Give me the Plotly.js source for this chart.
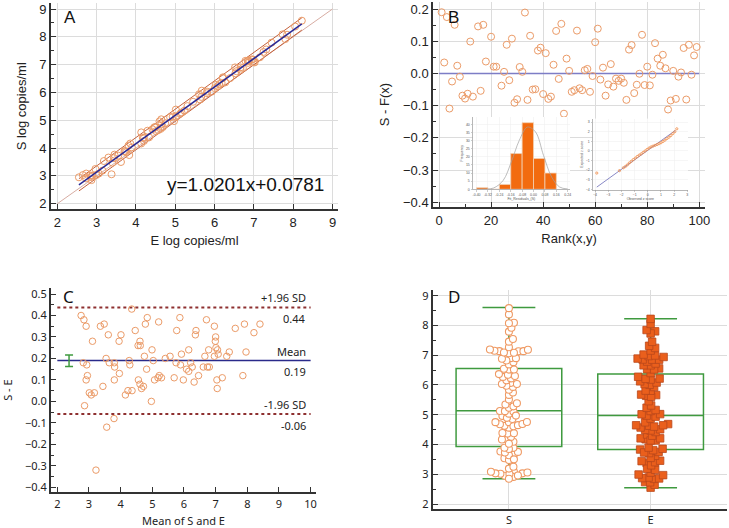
<!DOCTYPE html>
<html><head><meta charset="utf-8">
<script src="https://cdn.plot.ly/plotly-3.0.1.min.js"></script>
<style>html,body{margin:0;padding:0;background:#fff}#chart{width:729px;height:528px}</style>
</head><body><div id="chart"></div>
<script>
// ---------------- data ----------------
// Panel C: Bland-Altman — mean of S and E, and difference S - E
const meanSE = [2.75,2.84,2.91,2.82,2.93,2.95,2.91,2.86,3.01,3.07,3.17,3.11,3.22,3.36,3.48,3.44,3.54,3.61,3.56,3.64,3.79,3.80,3.80,3.81,3.95,4.01,3.96,4.15,4.23,4.27,4.29,4.36,4.35,4.46,4.55,4.61,4.62,4.56,4.61,4.66,4.72,4.78,4.75,4.82,4.84,4.99,5.03,4.97,5.07,5.18,5.22,5.20,5.29,5.41,5.56,5.69,5.75,5.77,5.87,5.89,5.92,5.98,6.08,6.15,6.15,6.21,6.26,6.32,6.36,6.38,6.46,6.61,6.66,6.71,6.74,6.78,6.80,6.96,6.96,7.00,6.99,7.01,7.06,7.08,7.04,7.05,7.21,7.35,7.43,7.62,7.86,7.91,7.96,8.21,8.40];
const diffSE = [0.40,0.38,0.35,0.18,0.17,0.12,0.10,-0.02,0.04,0.03,0.04,0.28,-0.32,0.35,0.36,0.07,0.20,0.31,-0.12,0.18,-0.08,0.18,0.10,0.16,0.28,0.31,0.13,0.03,0.05,0.19,0.17,0.05,0.43,0.33,0.26,0.28,0.26,0.10,0.08,0.06,0.07,0.36,0.21,0.15,0.39,0.24,0.19,0.00,0.10,0.11,0.12,0.37,0.11,0.20,0.21,0.11,0.18,0.33,0.39,0.17,0.22,0.10,0.15,0.24,0.14,0.18,0.16,0.09,0.31,0.33,0.12,0.16,0.21,0.38,0.16,0.24,0.16,0.35,0.21,0.30,0.28,0.25,0.24,0.22,0.10,0.06,0.11,0.21,0.23,0.34,0.12,0.36,0.23,0.32,0.36];
const baMean = 0.19, baUpper = 0.437, baLower = -0.059;
const meanCI = [0.163, 0.216];
const baCIx = 2.37;

// Panel A: regression
const regSlope = 1.0201, regIntercept = 0.0781, bandHalf = 0.22;
const identityRange = [2, 9];

// Panel B: residuals vs rank
const rankB = [1,2,3,4,5,6,7,8,9,10,11,12,13,15,16,17,18,20,21,22,24,25,26,27,28,29,30,31,32,33,34,35,36,37,38,39,40,41,42,43,44,45,46,47,48,49,50,51,52,53,54,55,56,57,58,59,60,61,62,63,64,65,66,67,68,69,70,71,72,73,74,75,76,77,78,79,80,81,82,83,84,85,86,87,88,89,90,91,92,93,94,95,96,97,98,99];
const residB = [0.19,0.034,0.175,-0.109,-0.025,0.151,0.024,-0.01,-0.069,-0.078,-0.063,0.099,-0.072,0.146,-0.054,0.151,0.037,0.114,0.021,0.021,-0.038,0.005,0.089,-0.021,0.108,-0.091,-0.08,0.02,0.005,0.189,-0.082,0.117,-0.05,-0.049,0.071,0.08,-0.064,0.063,-0.079,-0.072,0.027,0.132,-0.017,0.154,-0.125,0.046,0.008,-0.057,-0.052,0.133,-0.046,-0.052,0.01,0.014,-0.057,-0.008,0.097,0.139,-0.019,0.018,-0.069,-0.034,0.029,-0.041,-0.016,-0.023,-0.016,-0.029,-0.082,0.074,0.088,-0.061,-0.035,-0.001,0.12,-0.036,0.021,-0.037,-0.004,0.094,0.046,0.024,0.058,0.016,-0.112,-0.084,0.008,-0.079,-0.01,0.003,0.079,-0.081,0.089,-0.004,0.056,0.082];
const zeroLineX = [0, 100];

// Panel B insets
const histCenters = [-0.36,-0.28,-0.20,-0.12,-0.04,0.04,0.12];
const histCounts = [1,0,3,22,41,19,10];
const histTicks = [-0.40,-0.32,-0.24,-0.16,-0.08,0.00,0.08,0.16,0.24];
const curveX = [-0.40,-0.371,-0.281,-0.213,-0.156,-0.100,-0.043,0.014,0.070,0.127,0.183,0.24];
const curveY = [0,0,0.8,5.5,16.8,30.1,38.3,35.3,20.9,7.6,1.4,0.2];
const qqObserved = [-3.87,-2.15,-1.85,-1.70,-1.55,-1.40,-1.25,-1.10,-0.95,-0.80,-0.65,-0.50,-0.35,-0.20,-0.05,0.10,0.25,0.40,0.55,0.70,0.85,1.00,1.15,1.30,1.45,1.60,1.75,1.90,2.05,2.20];
const qqExpected = [-2.30,-2.05,-1.75,-1.62,-1.45,-1.25,-1.08,-0.90,-0.75,-0.58,-0.44,-0.30,-0.15,0.00,0.16,0.30,0.42,0.50,0.58,0.66,0.75,0.85,0.98,1.12,1.28,1.42,1.60,1.80,2.00,2.30];
const qqLineX = [-3.87, 2.10];
const qqLineY = [-3.76, 2.14];

// Panel D: box statistics
const boxLabels = ['S', 'E'];
const boxQ1 = [3.93, 3.83];
const boxMedian = [5.13, 4.97];
const boxQ3 = [6.55, 6.37];
const boxLow = [2.85, 2.55];
const boxHigh = [8.60, 8.22];

// ---------------- derived ----------------
const S = meanSE.map((m, i) => m + diffSE[i] / 2);
const E = meanSE.map((m, i) => m - diffSE[i] / 2);
const eMin = Math.min(...E), eMax = Math.max(...E);

// ---------------- layout geometry ----------------
const W = 729, H = 528;
const dx = (l, r) => [l / W, r / W];
const dy = (t, b) => [1 - b / H, 1 - t / H];

const geo = {
  A: {x: [51, 338], y: [3.3, 209.3], xr: [1.84, 9.14], yr: [1.80, 9.205]},
  B: {x: [433.3, 705], y: [1.7, 207.3], xr: [-2.2, 102.2], yr: [-0.4155, 0.2227]},
  C: {x: [51, 316], y: [288, 492.3], xr: [1.8, 10.17], yr: [-0.4233, 0.528]},
  D: {x: [432.7, 726.7], y: [289.7, 509], xr: [-0.538, 1.537], yr: [1.832, 9.2]},
  H: {x: [472.7, 570], y: [117, 189.3], xr: [-0.427, 0.256], yr: [0, 44.5]},
  Q: {x: [592.7, 688], y: [118.7, 189.7], xr: [-4.18, 3.05], yr: [-4.03, 3.35]}
};

// beeswarm offsets for panel D (pixel based, from the axis scales)
function swarm(vals, g, diam) {
  const pxX = (g.x[1] - g.x[0]) / (g.xr[1] - g.xr[0]);
  const pxY = (g.y[1] - g.y[0]) / (g.yr[1] - g.yr[0]);
  const idx = vals.map((v, i) => i).sort((a, b) => vals[a] - vals[b]);
  const placed = [], off = new Array(vals.length).fill(0);
  for (const i of idx) {
    const yp = vals[i] * pxY;
    let chosen = 0;
    outer:
    for (let k = 0; k < 400; k++) {
      const cands = k === 0 ? [0] : [k * 0.5, -k * 0.5];
      for (const c of cands) {
        let ok = true;
        for (const p of placed) {
          const ddy = yp - p.y;
          if (Math.abs(ddy) >= diam) continue;
          const ddx = c - p.x;
          if (ddx * ddx + ddy * ddy < diam * diam) { ok = false; break; }
        }
        if (ok) { chosen = c; break outer; }
      }
    }
    placed.push({x: chosen, y: yp});
    off[i] = chosen / pxX;
  }
  return off;
}
const offS = swarm(S, geo.D, 4.6);
const offE = swarm(E, geo.D, 4.9);

// ---------------- styles ----------------
const fA = {family: 'Liberation Sans, Arial, sans-serif', size: 13, color: '#222'};
const fC = {family: 'Noto Sans, sans-serif', size: 11, color: '#222'};
const fTiny = {family: 'Liberation Sans, Arial, sans-serif', size: 3.5, color: '#555'};
const orange = '#eb9b68';
const green = '#3f9a3f';
const grid = '#dcdcdc';

function ax(g, key, extra) {
  return Object.assign({
    domain: key === 'x' ? dx(g.x[0], g.x[1]) : dy(g.y[0], g.y[1]),
    range: key === 'x' ? g.xr : g.yr,
    showline: true, linecolor: '#333', linewidth: 2,
    ticks: 'inside', ticklen: 5, tickcolor: '#333', tickwidth: 1,
    zeroline: false, showgrid: false, fixedrange: true
  }, extra);
}

// ---------------- traces ----------------
const traces = [];
// Panel A
traces.push({type: 'scatter', mode: 'lines', x: identityRange, y: identityRange, xaxis: 'x', yaxis: 'y',
  line: {color: '#d7aca2', width: 1}});
const regX = [eMin, eMax];
traces.push({type: 'scatter', mode: 'lines', x: regX, y: regX.map(v => regSlope * v + regIntercept + bandHalf), xaxis: 'x', yaxis: 'y',
  line: {color: '#c4603a', width: 1}});
traces.push({type: 'scatter', mode: 'lines', x: regX, y: regX.map(v => regSlope * v + regIntercept - bandHalf), xaxis: 'x', yaxis: 'y',
  line: {color: '#c4603a', width: 1}});
traces.push({type: 'scatter', mode: 'markers', x: E, y: S, xaxis: 'x', yaxis: 'y',
  marker: {symbol: 'circle-open', size: 7, color: orange, line: {width: 1}}});
traces.push({type: 'scatter', mode: 'lines', x: regX, y: regX.map(v => regSlope * v + regIntercept), xaxis: 'x', yaxis: 'y',
  line: {color: '#2a2a96', width: 1.5}});

// Panel B
traces.push({type: 'scatter', mode: 'lines', x: zeroLineX, y: [0, 0], xaxis: 'x2', yaxis: 'y2',
  line: {color: '#7d7dc6', width: 1.5}});
traces.push({type: 'scatter', mode: 'markers', x: rankB, y: residB, xaxis: 'x2', yaxis: 'y2',
  marker: {symbol: 'circle-open', size: 7, color: orange, line: {width: 1}}});

// Panel C
traces.push({type: 'scatter', mode: 'lines', x: [2, 10], y: [baUpper, baUpper], xaxis: 'x3', yaxis: 'y3',
  line: {color: '#8e3030', width: 2, dash: 'dot'}});
traces.push({type: 'scatter', mode: 'lines', x: [2, 10], y: [baLower, baLower], xaxis: 'x3', yaxis: 'y3',
  line: {color: '#8e3030', width: 2, dash: 'dot'}});
traces.push({type: 'scatter', mode: 'lines', x: [2, 10], y: [baMean, baMean], xaxis: 'x3', yaxis: 'y3',
  line: {color: '#2a2a8a', width: 1.5}});
traces.push({type: 'scatter', mode: 'markers', x: meanSE, y: diffSE, xaxis: 'x3', yaxis: 'y3',
  marker: {symbol: 'circle-open', size: 6.5, color: orange, line: {width: 1}}});
traces.push({type: 'scatter', mode: 'markers', x: [baCIx], y: [baMean], xaxis: 'x3', yaxis: 'y3',
  marker: {size: 1, color: 'rgba(0,0,0,0)'},
  error_y: {type: 'data', symmetric: false, array: [meanCI[1] - baMean], arrayminus: [baMean - meanCI[0]],
    color: green, thickness: 1.5, width: 4}});

// Panel D
boxLabels.forEach((lab, i) => {
  traces.push({type: 'box', name: lab, x: [i], q1: [boxQ1[i]], median: [boxMedian[i]], q3: [boxQ3[i]],
    lowerfence: [boxLow[i]], upperfence: [boxHigh[i]], orientation: 'v', boxpoints: false,
    width: 0.746, whiskerwidth: 0.5, fillcolor: 'rgba(0,0,0,0)',
    line: {color: green, width: 1.5}, xaxis: 'x4', yaxis: 'y4'});
});
traces.push({type: 'scatter', mode: 'markers', x: offS.map(o => 0 + o), y: S, xaxis: 'x4', yaxis: 'y4',
  marker: {symbol: 'circle', size: 7, color: '#ffffff', line: {color: '#ef9a64', width: 1.1}}});
traces.push({type: 'scatter', mode: 'markers', x: offE.map(o => 1 + o), y: E, xaxis: 'x4', yaxis: 'y4',
  marker: {symbol: 'square', size: 7.5, color: '#ea5f1c', line: {color: '#b9481c', width: 0.8}}});

// Inset histogram
traces.push({type: 'bar', x: histCenters, y: histCounts, width: 0.08, xaxis: 'x5', yaxis: 'y5',
  marker: {color: '#f26b0f', line: {color: '#f3d2b5', width: 0.8}}});
traces.push({type: 'scatter', mode: 'lines', x: curveX, y: curveY, xaxis: 'x5', yaxis: 'y5',
  line: {color: '#a0a0a0', width: 0.7, shape: 'spline'}});
// Inset Q-Q
traces.push({type: 'scatter', mode: 'lines', x: qqLineX, y: qqLineY, xaxis: 'x6', yaxis: 'y6',
  line: {color: '#6a6ab8', width: 0.8}});
traces.push({type: 'scatter', mode: 'markers', x: qqObserved, y: qqExpected, xaxis: 'x6', yaxis: 'y6',
  marker: {symbol: 'circle-open', size: 2.2, color: '#f08a45', line: {width: 0.8}}});

// ---------------- layout ----------------
const gB = geo.B;
const bx = px => gB.xr[0] + (px - gB.x[0]) * (gB.xr[1] - gB.xr[0]) / (gB.x[1] - gB.x[0]);
const by = py => gB.yr[1] - (py - gB.y[0]) * (gB.yr[1] - gB.yr[0]) / (gB.y[1] - gB.y[0]);

const insetAxis = (g, key, extra) => Object.assign({
  domain: key === 'x' ? dx(g.x[0], g.x[1]) : dy(g.y[0], g.y[1]),
  range: key === 'x' ? g.xr : g.yr,
  showline: true, linecolor: '#999', linewidth: 0.7, mirror: false,
  ticks: 'outside', ticklen: 1.5, tickcolor: '#999', tickwidth: 0.5,
  showgrid: true, gridcolor: '#eeeeee', gridwidth: 0.5, zeroline: false,
  tickfont: fTiny, fixedrange: true
}, extra);

const layout = {
  width: W, height: H,
  margin: {l: 0, r: 0, t: 0, b: 0},
  paper_bgcolor: '#ffffff', plot_bgcolor: '#ffffff',
  showlegend: false, hovermode: false, boxmode: 'overlay', bargap: 0,
  font: fA,
  xaxis: ax(geo.A, 'x', {anchor: 'y', dtick: 1, tick0: 2, showgrid: true, gridcolor: grid, tickfont: fA,
    title: {text: 'E log copies/ml', font: fA, standoff: 7}}),
  yaxis: ax(geo.A, 'y', {anchor: 'x', dtick: 1, tick0: 2, showgrid: true, gridcolor: grid, tickfont: fA,
    minor: {ticks: 'inside', ticklen: 3, dtick: 0.5, tickcolor: '#333', showgrid: false},
    title: {text: 'S log copies/ml', font: fA, standoff: 10}}),
  xaxis2: ax(geo.B, 'x', {anchor: 'y2', dtick: 20, tick0: 0, showgrid: true, gridcolor: grid, tickfont: fA,
    minor: {ticks: 'inside', ticklen: 3, dtick: 10, tickcolor: '#333', showgrid: false},
    title: {text: 'Rank(x,y)', font: fA, standoff: 7}}),
  yaxis2: ax(geo.B, 'y', {anchor: 'x2', dtick: 0.1, tick0: 0, tickformat: '.1f', showgrid: true, gridcolor: grid, tickfont: fA,
    minor: {ticks: 'inside', ticklen: 3, dtick: 0.05, tickcolor: '#333', showgrid: false},
    title: {text: 'S - F(x)', font: fA, standoff: 10}}),
  xaxis3: ax(geo.C, 'x', {anchor: 'y3', dtick: 1, tick0: 2, tickfont: fC,
    title: {text: 'Mean of S and E', font: fC, standoff: 8}}),
  yaxis3: ax(geo.C, 'y', {anchor: 'x3', dtick: 0.1, tick0: 0, tickformat: '.1f', tickfont: fC,
    minor: {ticks: 'inside', ticklen: 3, dtick: 0.05, tickcolor: '#333', showgrid: false},
    title: {text: 'S - E', font: fC, standoff: 12}}),
  xaxis4: ax(geo.D, 'x', {anchor: 'y4', tickvals: [0, 1], ticktext: boxLabels, ticks: '', showgrid: true, gridcolor: grid, tickfont: fC}),
  yaxis4: ax(geo.D, 'y', {anchor: 'x4', dtick: 1, tick0: 2, showgrid: true, gridcolor: grid, tickfont: fC,
    minor: {ticks: 'inside', ticklen: 3, dtick: 0.5, tickcolor: '#333', showgrid: false}}),
  xaxis5: insetAxis(geo.H, 'x', {anchor: 'y5', tickvals: histTicks, ticktext: histTicks.map(v => v.toFixed(2)),
    title: {text: 'Fit_Residuals_(S)', font: fTiny, standoff: 1}}),
  yaxis5: insetAxis(geo.H, 'y', {anchor: 'x5', dtick: 5, tick0: 0,
    title: {text: 'Frequency', font: fTiny, standoff: 2}}),
  xaxis6: insetAxis(geo.Q, 'x', {anchor: 'y6', dtick: 1, tick0: 0,
    title: {text: 'Observed z score', font: fTiny, standoff: 1}}),
  yaxis6: insetAxis(geo.Q, 'y', {anchor: 'x6', dtick: 1, tick0: 0,
    title: {text: 'Expected z score', font: fTiny, standoff: 2}}),
  shapes: [
    {type: 'rect', xref: 'x2', yref: 'y2', layer: 'below', x0: bx(460), x1: bx(576), y0: by(200), y1: by(113),
      fillcolor: '#ffffff', line: {width: 0}},
    {type: 'rect', xref: 'x2', yref: 'y2', layer: 'below', x0: bx(579), x1: bx(697), y0: by(200), y1: by(113),
      fillcolor: '#ffffff', line: {width: 0}}
  ],
  annotations: [
    {text: 'A', xref: 'paper', yref: 'paper', x: 62 / W, y: 1 - 17 / H, xanchor: 'left', yanchor: 'middle', showarrow: false,
      font: {family: 'Liberation Sans, Arial, sans-serif', size: 17, color: '#111'}},
    {text: 'y=' + regSlope.toFixed(4) + 'x+' + regIntercept.toFixed(4), xref: 'paper', yref: 'paper', x: 326 / W, y: 1 - 185 / H,
      xanchor: 'right', yanchor: 'middle', showarrow: false,
      font: {family: 'Liberation Sans, Arial, sans-serif', size: 19, color: '#111'}},
    {text: 'B', xref: 'paper', yref: 'paper', x: 446 / W, y: 1 - 17 / H, xanchor: 'left', yanchor: 'middle', showarrow: false,
      font: {family: 'Liberation Sans, Arial, sans-serif', size: 17, color: '#111'}},
    {text: 'C', xref: 'paper', yref: 'paper', x: 61 / W, y: 1 - 296 / H, xanchor: 'left', yanchor: 'middle', showarrow: false,
      font: {family: 'Noto Sans, sans-serif', size: 17, color: '#111'}},
    {text: 'D', xref: 'paper', yref: 'paper', x: 446 / W, y: 1 - 296 / H, xanchor: 'left', yanchor: 'middle', showarrow: false,
      font: {family: 'Noto Sans, sans-serif', size: 17, color: '#111'}},
    {text: '+1.96 SD', xref: 'x3', yref: 'y3', x: 9.93, y: baUpper, yshift: 10, xanchor: 'right', yanchor: 'middle', showarrow: false, font: fC},
    {text: baUpper.toFixed(2), xref: 'x3', yref: 'y3', x: 9.93, y: baUpper, yshift: -10.5, xanchor: 'right', yanchor: 'middle', showarrow: false, font: fC},
    {text: 'Mean', xref: 'x3', yref: 'y3', x: 9.93, y: baMean, yshift: 9, xanchor: 'right', yanchor: 'middle', showarrow: false, font: fC},
    {text: baMean.toFixed(2), xref: 'x3', yref: 'y3', x: 9.93, y: baMean, yshift: -10.5, xanchor: 'right', yanchor: 'middle', showarrow: false, font: fC},
    {text: '-1.96 SD', xref: 'x3', yref: 'y3', x: 9.93, y: baLower, yshift: 9.5, xanchor: 'right', yanchor: 'middle', showarrow: false, font: fC},
    {text: baLower.toFixed(2), xref: 'x3', yref: 'y3', x: 9.93, y: baLower, yshift: -11, xanchor: 'right', yanchor: 'middle', showarrow: false, font: fC}
  ]
};

Plotly.newPlot('chart', traces, layout, {staticPlot: true, displayModeBar: false});
</script>
</body></html>
